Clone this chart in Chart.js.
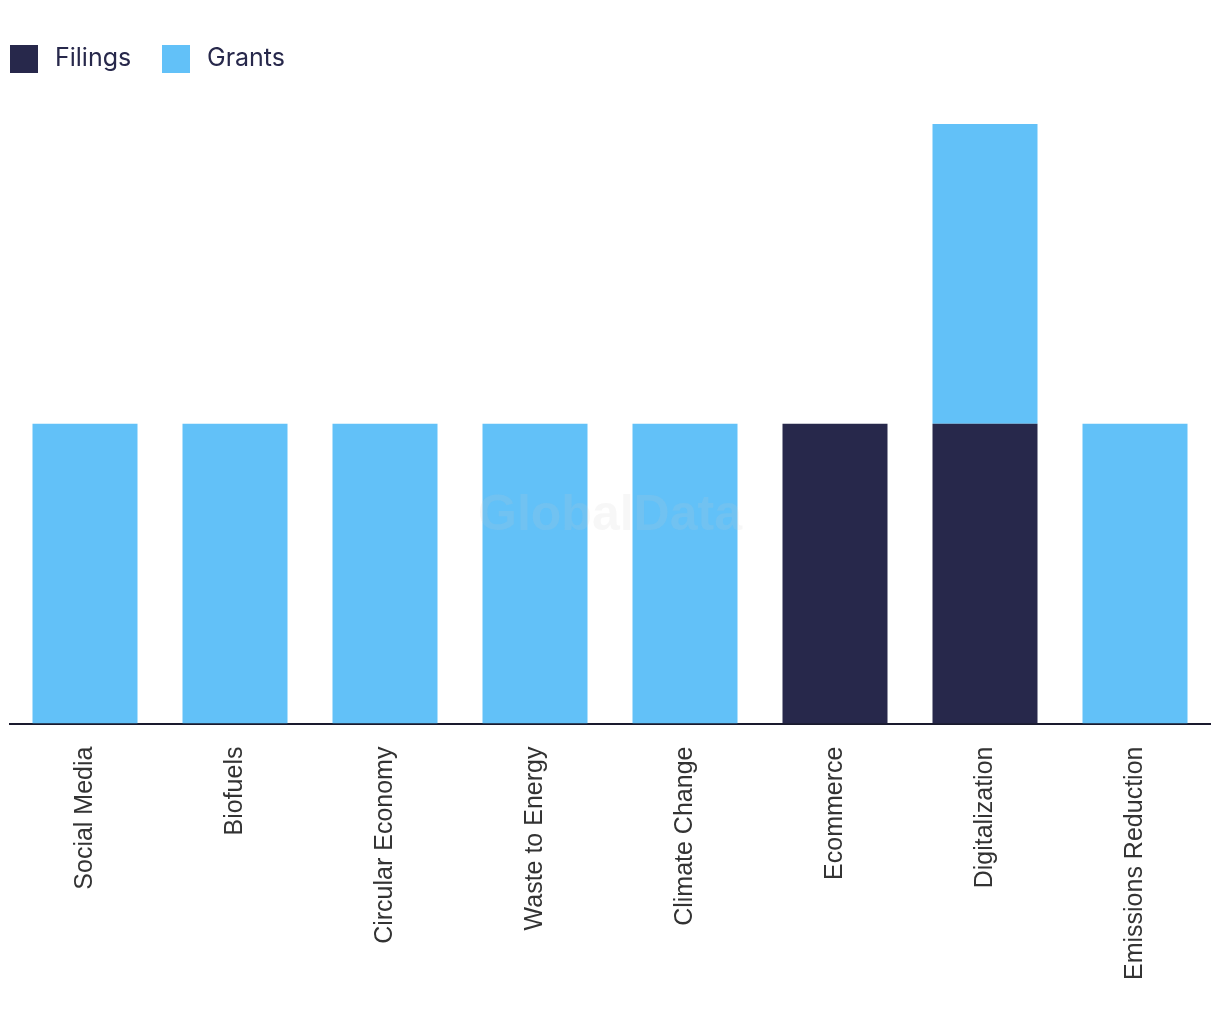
<!DOCTYPE html>
<html>
<head>
<meta charset="utf-8">
<script src="https://cdn.jsdelivr.net/npm/chart.js@4.4.1/dist/chart.umd.min.js"></script>
<style>
  body { margin: 0; background: #fff; }
  #wrap { width: 1220px; height: 1032px; }
</style>
</head>
<body>
<div id="wrap"><canvas id="ChartContainer" width="1220" height="1032"></canvas></div>
<script>
var categories = ['Social Media', 'Biofuels', 'Circular Economy', 'Waste to Energy', 'Climate Change', 'Ecommerce', 'Digitalization', 'Emissions Reduction'];
var filings = [0, 0, 0, 0, 0, 1, 1, 0];
var grants = [1, 1, 1, 1, 1, 0, 1, 1];
var yMax = 2;

// faint brand mark in the middle of the canvas
var watermark = {
    id: 'watermark',
    afterDatasetsDraw(chart) {
        var ctx = chart.ctx;
        ctx.save();
        ctx.font = 'bold 50px "Liberation Sans", Arial, sans-serif';
        ctx.fillStyle = 'rgba(200, 200, 200, 0.15)';
        ctx.textAlign = 'center';
        ctx.textBaseline = 'middle';
        ctx.fillText('GlobalData', chart.width / 2, chart.height / 2);
        ctx.restore();
    }
};

// legend drawn by hand so the spacing matches the original
var topLegend = {
    id: 'topLegend',
    afterDraw(chart) {
        var ctx = chart.ctx;
        var x = 10;
        ctx.save();
        ctx.font = '25px Inter, sans-serif';
        ctx.textBaseline = 'middle';
        ctx.textAlign = 'left';
        chart.data.datasets.forEach(function (ds) {
            ctx.fillStyle = ds.backgroundColor;
            ctx.fillRect(x, 45, 28, 28);
            ctx.fillStyle = '#27284b';
            ctx.fillText(ds.label, x + 45, 58);
            x += 152;
        });
        ctx.restore();
    }
};

new Chart(document.getElementById('ChartContainer').getContext('2d'), {
    type: 'bar',
    data: {
        labels: categories,
        datasets: [
            { label: 'Filings', data: filings, backgroundColor: '#27284b' },
            { label: 'Grants', data: grants, backgroundColor: '#62c1f8' }
        ]
    },
    options: {
        responsive: false,
        animation: false,
        layout: { padding: { left: 10, right: 10, top: 124, bottom: 37 } },
        datasets: { bar: { categoryPercentage: 0.7, barPercentage: 1 } },
        scales: {
            x: {
                stacked: true,
                grid: { display: false },
                border: { color: '#1a1a2e', width: 2 },
                ticks: {
                    minRotation: 90,
                    maxRotation: 90,
                    padding: 15,
                    color: '#333333',
                    font: { family: '"Liberation Sans", Arial, sans-serif', size: 25 }
                }
            },
            y: {
                stacked: true,
                display: false,
                min: 0,
                max: yMax
            }
        },
        plugins: {
            legend: { display: false },
            tooltip: { enabled: false }
        }
    },
    plugins: [watermark, topLegend]
});
</script>
</body>
</html>
